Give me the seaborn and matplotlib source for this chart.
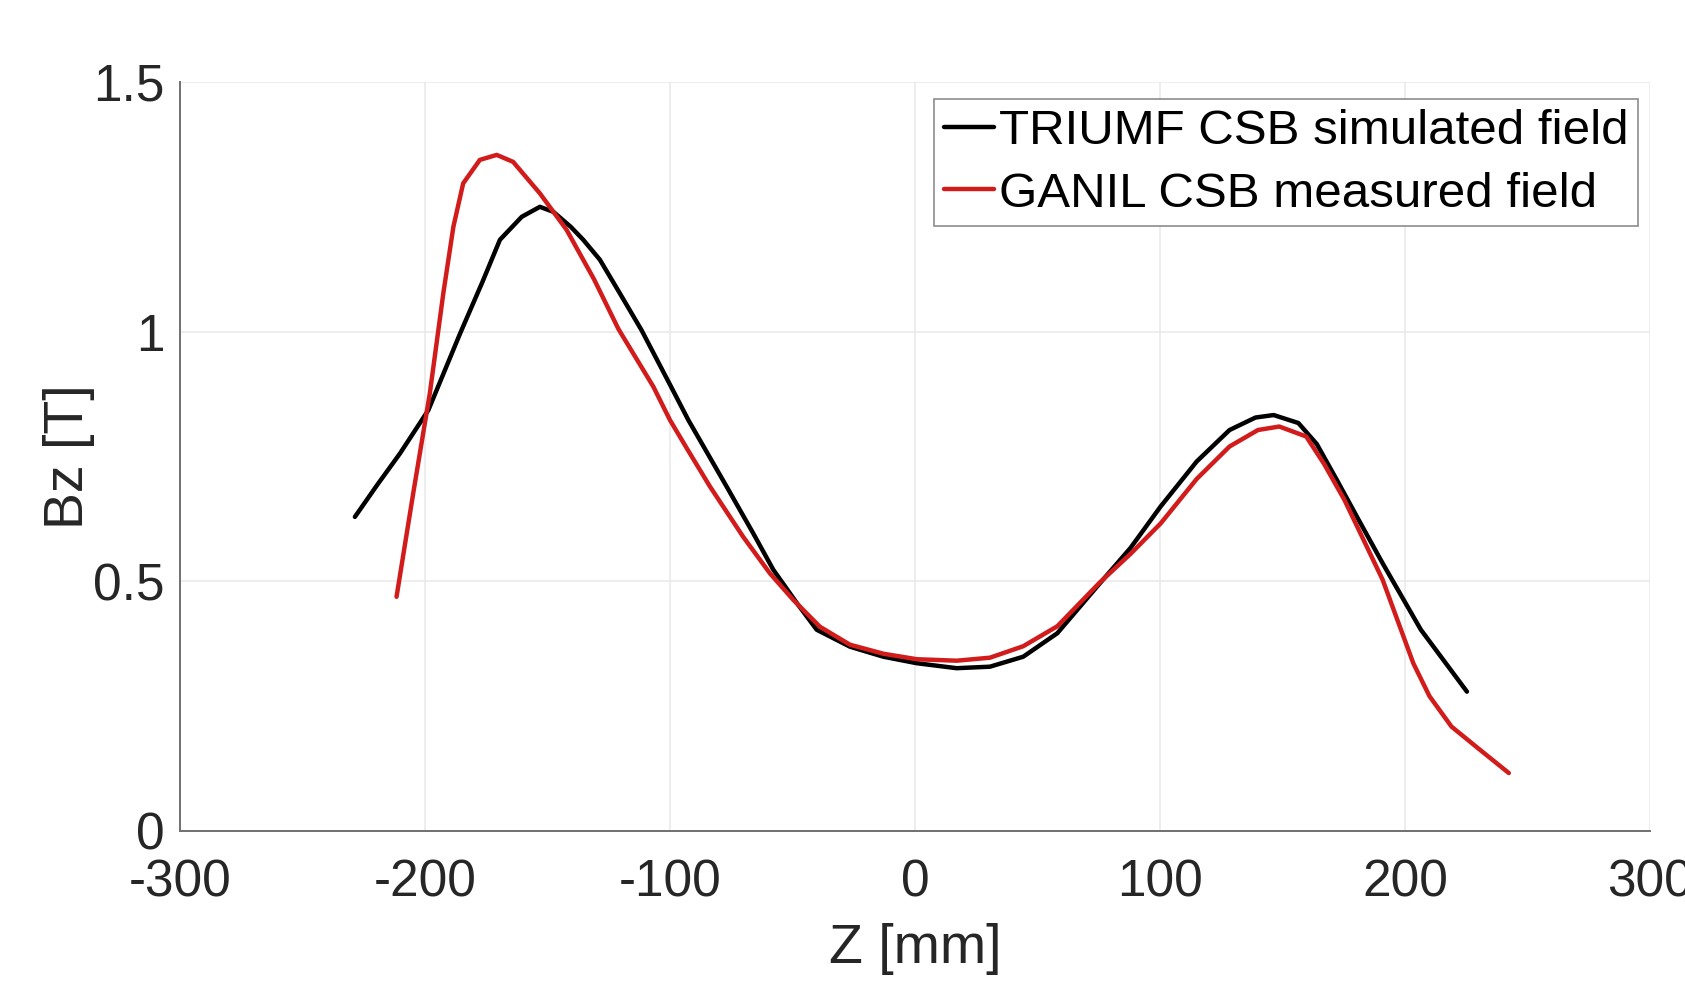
import numpy as np
import pandas as pd
import matplotlib
matplotlib.use("Agg")
import matplotlib.pyplot as plt
import seaborn as sns

# ---- data ----
sim_z = [-228.6, -219.5, -210.2, -198.6, -185.6, -176.5, -169.4, -160.5, -153.1, -147.6,
         -140.5, -135.4, -128.6, -120.0, -111.6, -100.0, -92.5, -86.4, -76.9, -66.0,
         -57.8, -48.0, -40.1, -26.5, -12.9, 0.7, 17.0, 30.6, 44.2, 58.1,
         75.3, 88.0, 100.3, 115.0, 128.4, 139.0, 146.4, 156.5, 164.0, 172.2,
         181.0, 190.9, 206.5, 225.3]
sim_bz = [0.629, 0.693, 0.756, 0.843, 0.997, 1.100, 1.184, 1.230, 1.250, 1.240,
          1.210, 1.184, 1.144, 1.073, 1.003, 0.894, 0.823, 0.771, 0.690, 0.596,
          0.523, 0.455, 0.403, 0.369, 0.349, 0.336, 0.326, 0.329, 0.349, 0.396,
          0.495, 0.567, 0.650, 0.740, 0.803, 0.828, 0.833, 0.817, 0.775, 0.703,
          0.624, 0.536, 0.403, 0.279]

meas_z = [-211.6, -204.8, -198.0, -192.5, -188.4, -184.4, -177.6, -170.7, -164.0, -153.1,
          -142.2, -131.0, -121.0, -106.8, -100.0, -93.2, -83.7, -70.1, -59.2, -49.7,
          -38.8, -26.5, -12.9, 0.7, 17.0, 30.6, 44.2, 58.1, 75.3, 88.0,
          100.3, 115.0, 128.4, 140.0, 148.7, 159.7, 167.0, 175.3, 190.9, 203.4,
          210.0, 219.0, 230.0, 242.4]
meas_bz = [0.469, 0.676, 0.877, 1.077, 1.210, 1.297, 1.344, 1.354, 1.340, 1.277,
           1.204, 1.105, 1.005, 0.890, 0.823, 0.767, 0.690, 0.589, 0.516, 0.463,
           0.409, 0.373, 0.355, 0.344, 0.341, 0.347, 0.370, 0.410, 0.497, 0.555,
           0.616, 0.705, 0.770, 0.803, 0.810, 0.790, 0.735, 0.663, 0.503, 0.336,
           0.270, 0.209, 0.165, 0.116]

series_names = ["TRIUMF CSB simulated field", "GANIL CSB measured field"]
x_ticks = [-300, -200, -100, 0, 100, 200, 300]
x_ticklabels = ["-300", "-200", "-100", "0", "100", "200", "300"]
y_ticks = [0, 0.5, 1, 1.5]
y_ticklabels = ["0", "0.5", "1", "1.5"]

df_sim = pd.DataFrame({"Z": sim_z, "Bz": sim_bz})
df_meas = pd.DataFrame({"Z": meas_z, "Bz": meas_bz})

# ---- style ----
sns.set_style("white")
plt.rcParams["font.family"] = ["Liberation Sans", "DejaVu Sans"]

axis_grey = "#707070"
text_dark = "#262626"

fig = plt.figure(figsize=(16.85, 9.82), dpi=100)
ax = fig.add_axes([0.1068, 0.1538, 0.8724, 0.7627])

sns.lineplot(data=df_sim, x="Z", y="Bz", ax=ax, color="black", linewidth=3.2,
             sort=False, label=series_names[0])
sns.lineplot(data=df_meas, x="Z", y="Bz", ax=ax, color="#d21c1c", linewidth=3.2,
             sort=False, label=series_names[1])

ax.set_xlim(-300, 300)
ax.set_ylim(0, 1.5)
ax.set_xticks(x_ticks)
ax.set_xticklabels(x_ticklabels)
ax.set_yticks(y_ticks)
ax.set_yticklabels(y_ticklabels)

ax.grid(True, color="#e8e8e8", linewidth=1.1)
ax.set_axisbelow(True)

for side in ["top", "right"]:
    ax.spines[side].set_visible(False)
for side in ["left", "bottom"]:
    ax.spines[side].set_color(axis_grey)
    ax.spines[side].set_linewidth(1.4)

ax.tick_params(axis="both", direction="in", length=7, width=1.1, color=axis_grey,
               labelsize=37, labelcolor=text_dark)
ax.tick_params(axis="x", pad=20)
ax.tick_params(axis="y", pad=11)

ax.set_xlabel("Z [mm]", fontsize=40, color=text_dark, labelpad=11)
ax.set_ylabel("Bz [T]", fontsize=40, color=text_dark, labelpad=-1)

leg = ax.legend(loc="upper right", bbox_to_anchor=(1638 / 1685, 1 - 99 / 982),
                bbox_transform=fig.transFigure, borderaxespad=0, fontsize=35.5,
                handlelength=1.0, handletextpad=0.1, borderpad=0.2,
                labelspacing=0.36, fancybox=False, framealpha=1,
                edgecolor="#8c8c8c")
leg.get_frame().set_linewidth(1.2)
for t in leg.get_texts():
    t.set_color("black")

fig.savefig("out.png", dpi=100)
